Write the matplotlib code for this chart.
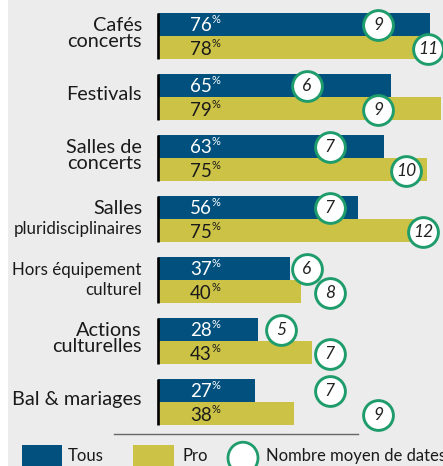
import matplotlib
matplotlib.use("Agg")
import matplotlib.pyplot as plt
from matplotlib.patches import Rectangle, Circle
from matplotlib.lines import Line2D

plt.rcParams['font.family'] = ['Lato', 'DejaVu Sans']

# ---- data ----
categories = ["Cafés\nconcerts", "Festivals", "Salles de\nconcerts", "Salles\npluridisciplinaires",
              "Hors équipement\nculturel", "Actions\nculturelles", "Bal & mariages"]
tous = [76, 65, 63, 56, 37, 28, 27]
pro = [78, 79, 75, 75, 40, 43, 38]
dates_tous = [9, 6, 7, 7, 6, 5, 7]
dates_pro = [11, 9, 10, 12, 8, 7, 9]
# horizontal placement of the date bubbles (in % axis units)
dates_tous_x = [61.5, 41.6, 48.0, 48.0, 41.6, 34.4, 48.0]
dates_pro_x = [75.4, 61.5, 69.3, 74.0, 48.0, 48.0, 61.5]
legend_labels = ["Tous", "Pro", "Nombre moyen de dates"]

BLUE = "#01507d"
OLIVE = "#cbc246"
GREEN = "#1e9c6b"
BG = "#ececec"
TXT = "#1a1a1a"

W, H = 443, 466
fig = plt.figure(figsize=(W / 100, H / 100), dpi=100)
fig.patch.set_facecolor("white")

bgax = fig.add_axes([8 / W, 0, 1 - 8 / W, 1], zorder=-5)
bgax.set_facecolor(BG)
bgax.set_xticks([]); bgax.set_yticks([])
for s in bgax.spines.values():
    s.set_visible(False)

ax = fig.add_axes([0, 0, 1, 1], zorder=1)
ax.set_facecolor("none")
pxper = 3.58
x0 = 158
ax.set_xlim(-x0 / pxper, (W - x0) / pxper)
gap = 61.0
c0 = 36.0
ax.set_ylim((H - c0) / gap, -c0 / gap)
ax.axis("off")

bh = 23 / gap
n = len(categories)
ys = list(range(n))

ax.barh([y - bh / 2 for y in ys], tous, height=bh, color=BLUE, align="center", zorder=2)
ax.barh([y + bh / 2 for y in ys], pro, height=bh, color=OLIVE, align="center", zorder=2)

for y in ys:
    ax.plot([0, 0], [y - bh, y + bh], color="black", lw=1.9, solid_capstyle="butt", zorder=3)

lab_x = 32 / pxper
for y, t, p in zip(ys, tous, pro):
    for val, yy, col in ((t, y - bh / 2 + 0.02, "white"), (p, y + bh / 2 + 0.03, TXT)):
        ax.text(lab_x, yy, f"{val}", color=col, fontsize=13.5, va="center", ha="left", zorder=4)
        ax.annotate("%", xy=(lab_x, yy), xytext=(15.6, 4.5), textcoords="offset points",
                    color=col, fontsize=8, va="center", ha="left", zorder=4)

# bubbles
for y, xt, xp, dt, dp in zip(ys, dates_tous_x, dates_pro_x, dates_tous, dates_pro):
    for xx, yy, d in ((xt, y - bh / 2 + 0.01, dt), (xp, y + bh / 2 + 0.02, dp)):
        ax.scatter([xx], [yy], s=460, facecolor="white", edgecolor=GREEN, linewidth=2.1, zorder=5)
        ax.text(xx, yy, f"{d}", fontsize=12.5, style="italic", color="#222222",
                ha="center", va="center", zorder=6)

# category labels
lx = -16 / pxper
big = 14.3
small = 12.2
for y, cat in zip(ys, categories):
    if cat == "Salles\npluridisciplinaires":
        ax.text(lx, y - 0.17, "Salles", fontsize=big, ha="right", va="center", color=TXT)
        ax.text(lx, y + 0.16, "pluridisciplinaires", fontsize=small, ha="right", va="center", color=TXT)
    elif cat.startswith("Hors"):
        ax.text(lx, y - 0.16, "Hors équipement", fontsize=small, ha="right", va="center", color=TXT)
        ax.text(lx, y + 0.16, "culturel", fontsize=small, ha="right", va="center", color=TXT)
    else:
        ax.text(lx, y - 0.04, cat, fontsize=big, ha="right", va="center", color=TXT,
                linespacing=0.98)

# separator and legend (figure pixel coords)
def fx(px):
    return px / W

def fy(py):
    return 1 - py / H

fig.add_artist(Line2D([fx(114), fx(358)], [fy(434), fy(434)], color="#666666", lw=1.0,
                      transform=fig.transFigure))
fig.add_artist(Rectangle((fx(22), fy(468)), 40 / W, 23 / H, transform=fig.transFigure,
                         facecolor=BLUE, edgecolor="none"))
fig.text(fx(68), fy(456), legend_labels[0], fontsize=12, va="center", ha="left", color=TXT)
fig.add_artist(Rectangle((fx(133), fy(468)), 41 / W, 23 / H, transform=fig.transFigure,
                         facecolor=OLIVE, edgecolor="none"))
fig.text(fx(182), fy(456), legend_labels[1], fontsize=12, va="center", ha="left", color=TXT)
fig.add_artist(Circle((fx(243), fy(458)), 15 / W, transform=fig.transFigure,
                      facecolor="white", edgecolor=GREEN, lw=2.0))
fig.text(fx(266), fy(456), legend_labels[2], fontsize=12, va="center", ha="left", color=TXT)

fig.savefig("out.png", dpi=100)
